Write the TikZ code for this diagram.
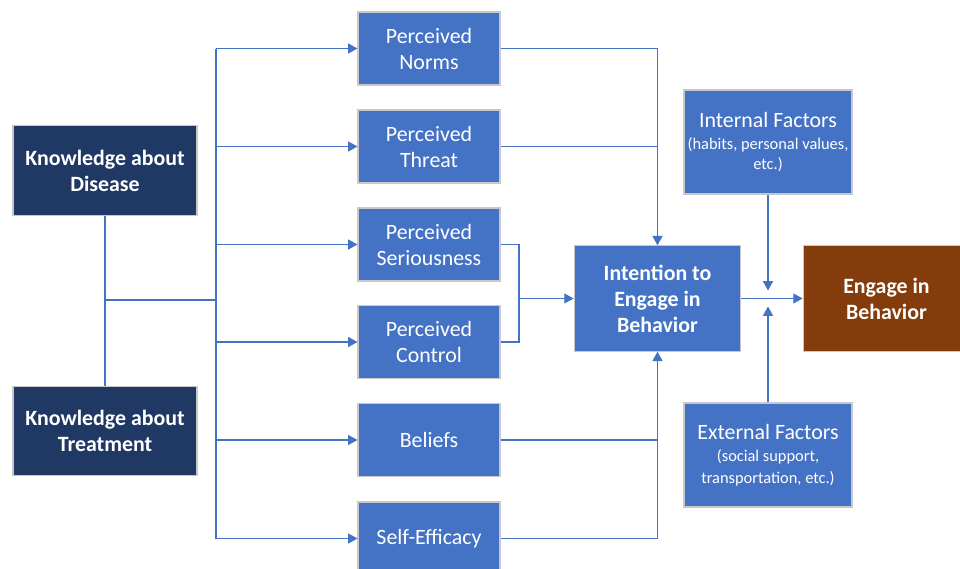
\documentclass[tikz,border=0pt]{standalone}
\usepackage{fontspec}
\setmainfont{Carlito}
\usetikzlibrary{arrows.meta}

\definecolor{midblue}{RGB}{68,114,196}
\definecolor{navy}{RGB}{31,56,100}
\definecolor{rust}{RGB}{132,60,12}
\definecolor{edge}{RGB}{200,200,200}

\newcommand{\subline}{\fontsize{12.3}{15}\selectfont}

\begin{document}
\begin{tikzpicture}[x=0.75pt,y=0.75pt,yscale=-1,xscale=1,
    box/.style={draw=edge, line width=0.8pt, fill=midblue, text=white, align=center,
        font=\fontsize{16.4}{19.5}\selectfont, inner sep=2pt},
    boldbox/.style={box, font=\bfseries\fontsize{16.4}{19.5}\selectfont},
    knowbox/.style={boldbox, fill=navy, minimum width=138pt, minimum height=67pt},
    factbox/.style={box, minimum width=106.5pt, minimum height=54.75pt},
    sidebox/.style={box, minimum width=126pt, minimum height=78pt},
    link/.style={draw=midblue, line width=1pt},
    arrow/.style={link, -{Triangle[length=7pt,width=7.5pt]}}]
\useasboundingbox (0,0) rectangle (960,568);

% knowledge on the left
\node[knowbox] (disease) at (105,170.5) {Knowledge about\\Disease};
\node[knowbox] (treatment) at (105,431) {Knowledge about\\Treatment};

% perceived factors
\node[factbox] (norms) at (429,48.5) {Perceived\\Norms};
\node[factbox] (threat) at (429,146.5) {Perceived\\Threat};
\node[factbox] (serious) at (429,244.5) {Perceived\\Seriousness};
\node[factbox] (control) at (429,342) {Perceived\\Control};
\node[factbox] (beliefs) at (429,440) {Beliefs};
\node[factbox] (efficacy) at (429,538.5) {Self-Efficacy};

% intention and behavior
\node[boldbox, minimum width=125pt, minimum height=79pt]
    (intent) at (657.5,298.5) {Intention to\\Engage in\\Behavior};
\node[boldbox, fill=rust, minimum width=125pt, minimum height=79pt]
    (engage) at (886.5,298.5) {Engage in\\Behavior};
\node[sidebox] (internal) at (768,142) {Internal Factors\\[-3.5pt] \subline (habits, personal values,\\[-4.5pt] \subline etc.)};
\node[sidebox] (external) at (768,455) {External Factors\\[-2.5pt] \subline (social support,\\[-3.5pt] \subline transportation, etc.)};

\coordinate (junction) at (105,300);
\coordinate (trunk) at (216,300);
\coordinate (pair) at (519,298.5);
\coordinate (meet) at (768,298.5);

% left tree
\draw[link] (disease.south) -- (treatment.north);
\draw[link] (junction) -- (trunk);
\draw[link] (norms.west -| trunk) -- (efficacy.west -| trunk);
\foreach \n in {norms,threat,serious,control,beliefs,efficacy}
    \draw[arrow] (\n.west -| trunk) -- (\n.west);

% into intention
\draw[arrow] (norms.east) -| (intent.north);
\draw[link] (threat.east) -- (threat.east -| intent.north);
\draw[link] (serious.east) -| (pair) |- (control.east);
\draw[arrow] (pair) -- (intent.west);
\draw[arrow] (beliefs.east) -| (intent.south);
\draw[link] (efficacy.east) -| (beliefs.east -| intent.south);

% into behavior
\draw[arrow] (intent.east) -- (engage.west);
\draw[arrow, shorten >=6pt] (internal.south) -- (meet);
\draw[arrow, shorten >=6pt] (external.north) -- (meet);
\end{tikzpicture}
\end{document}
